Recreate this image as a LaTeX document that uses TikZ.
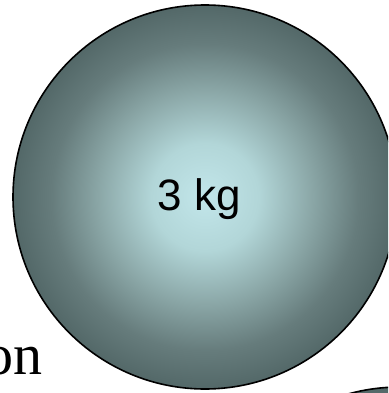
\documentclass[tikz,border=0pt]{standalone}
\usepackage{fontspec}
\setmainfont{Liberation Serif}
\setsansfont{Liberation Sans}
\definecolor{cc0}{HTML}{C2E6EA}
\definecolor{cc1}{HTML}{B2D6D8}
\definecolor{cc2}{HTML}{8AA6A6}
\definecolor{cc3}{HTML}{667C7C}
\definecolor{cc4}{HTML}{536868}
\pgfdeclareradialshading{ballshade}{\pgfpoint{0bp}{0bp}}{color(0bp)=(cc0); color(7bp)=(cc1); color(14bp)=(cc2); color(20bp)=(cc3); color(25bp)=(cc4); color(50bp)=(cc4)}
\begin{document}
\begin{tikzpicture}[x=1pt,y=-1pt,
  ballstyle/.style={circle,draw=black,line width=1.6pt,shading=ballshade,inner sep=0pt},
  masstext/.style={font=\sffamily\fontsize{44}{44}\selectfont,inner sep=0pt},
  sidetext/.style={font=\fontsize{58}{58}\selectfont,inner sep=0pt}]
\useasboundingbox (0,0) rectangle (388,393);
\begin{scope}
\clip (0,0) rectangle (388,393);
\node[ballstyle,minimum size=390pt] (ball2) at (400,582) {};
\node[ballstyle,minimum size=384pt] (ball) at (205,197) {};
\node[masstext] (mass) at (199,199) {3 kg};
\node[sidetext,anchor=base east] (word) at (43,374) {on};
\end{scope}
\end{tikzpicture}
\end{document}
